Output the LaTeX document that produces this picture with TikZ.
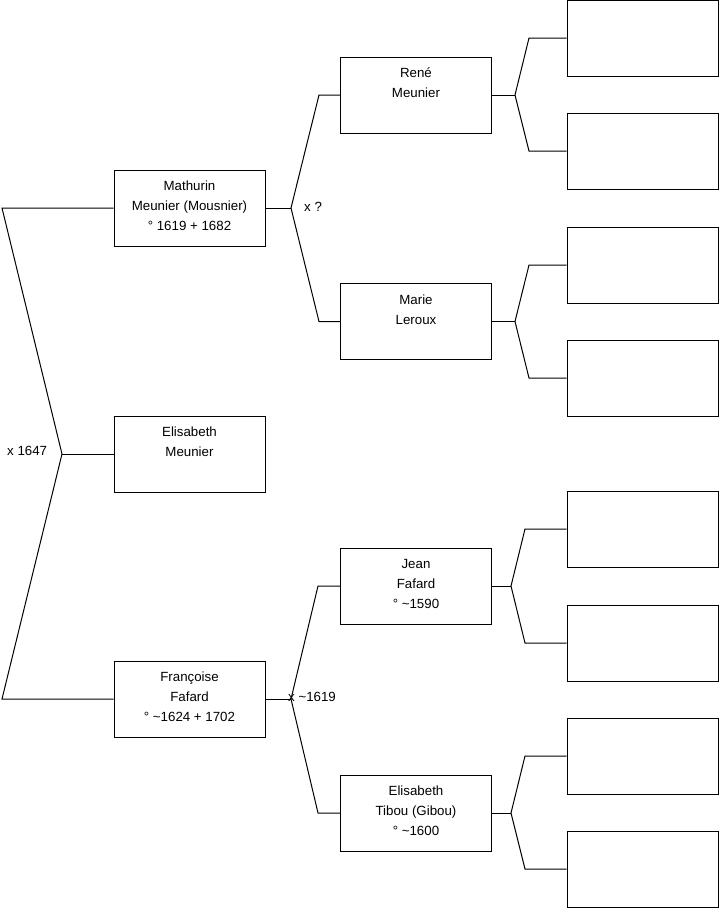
\documentclass[tikz,border=0pt]{standalone}
\usepackage{fontspec}
\setmainfont{Liberation Sans}
\begin{document}
\begin{tikzpicture}[x=1pt,y=-1pt,
 person/.style={draw, line width=1pt, minimum width=151pt, minimum height=76pt, align=center,
   font=\fontsize{13.3}{20}\selectfont, inner sep=0pt,
   execute at end node={\rule[-4pt]{0pt}{0pt}}},
 link/.style={line width=1pt},
 lbl/.style={anchor=west, inner sep=0pt, font=\fontsize{13.3}{15}\selectfont}]
\useasboundingbox (0,0) rectangle (719,908);
% generation 1 & 2
\node[person] (M)  at (189.5,208) {Mathurin\\Meunier (Mousnier)\\° 1619 + 1682};
\node[person] (EM) at (189.5,454) {Elisabeth\\Meunier\\\mbox{}};
\node[person] (F)  at (189.5,699) {Françoise\\Fafard\\° \textasciitilde1624 + 1702};
% generation 3
\node[person] (R)  at (416,95)    {René\\Meunier\\\mbox{}};
\node[person] (Ma) at (416,321.5) {Marie\\Leroux\\\mbox{}};
\node[person] (J)  at (416,586)   {Jean\\Fafard\\° \textasciitilde1590};
\node[person] (T)  at (416,813)   {Elisabeth\\Tibou (Gibou)\\° \textasciitilde1600};
% generation 4 (empty)
\node[person] (R1) at (642.5,38)  {};
\node[person] (R2) at (642.5,151) {};
\node[person] (M1) at (642.5,265) {};
\node[person] (M2) at (642.5,378) {};
\node[person] (J1) at (642.5,529) {};
\node[person] (J2) at (642.5,643) {};
\node[person] (T1) at (642.5,756) {};
\node[person] (T2) at (642.5,869) {};
% coordinates
\coordinate (a1) at (2,208);
\coordinate (a2) at (62,454);
\coordinate (a3) at (2,699);
\coordinate (m)  at (291,208);
\coordinate (m1) at (319,95);
\coordinate (m2) at (319,321.5);
\coordinate (f)  at (291,699);
\coordinate (f1) at (318,586);
\coordinate (f2) at (318,813);
\coordinate (r)  at (515,95);
\coordinate (r1) at (529,38);
\coordinate (r2) at (529,151);
\coordinate (ma) at (515,321.5);
\coordinate (ma1) at (529,265);
\coordinate (ma2) at (529,378);
\coordinate (j)  at (511,586);
\coordinate (j1) at (525,529);
\coordinate (j2) at (525,643);
\coordinate (t)  at (511,813);
\coordinate (t1) at (525,756);
\coordinate (t2) at (525,869);
% connectors
\draw[link] (M.west) -- (a1) -- (a2) -- (a3) -- (F.west);
\draw[link] (a2) -- (EM.west);
\draw[link] (M.east) -- (m);
\draw[link] (R.west) -- (m1) -- (m) -- (m2) -- (Ma.west);
\draw[link] (F.east) -- (f);
\draw[link] (J.west) -- (f1) -- (f) -- (f2) -- (T.west);
\draw[link] (R.east) -- (r);
\draw[link] (R1.west) -- (r1) -- (r) -- (r2) -- (R2.west);
\draw[link] (Ma.east) -- (ma);
\draw[link] (M1.west) -- (ma1) -- (ma) -- (ma2) -- (M2.west);
\draw[link] (J.east) -- (j);
\draw[link] (J1.west) -- (j1) -- (j) -- (j2) -- (J2.west);
\draw[link] (T.east) -- (t);
\draw[link] (T1.west) -- (t1) -- (t) -- (t2) -- (T2.west);
% labels
\node[lbl] (L1) at (7,451)   {x 1647};
\node[lbl] (L2) at (304,207) {x ?};
\node[lbl] (L3) at (288,697) {x \textasciitilde1619};
\end{tikzpicture}
\end{document}
